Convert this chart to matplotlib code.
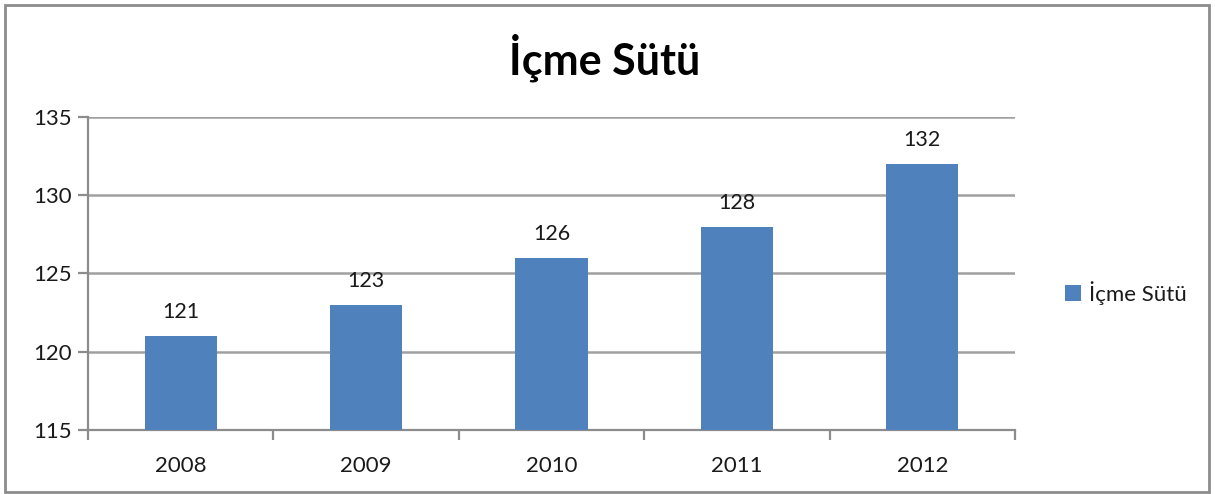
import matplotlib
matplotlib.use("Agg")
import matplotlib.pyplot as plt
from matplotlib.patches import Rectangle

years = ["2008", "2009", "2010", "2011", "2012"]
values = [121, 123, 126, 128, 132]
series_name = "İçme Sütü"
title = "İçme Sütü"
yticks = [115, 120, 125, 130, 135]

plt.rcParams['font.family'] = ['Lato', 'DejaVu Sans']

W, H = 1215, 494
fig = plt.figure(figsize=(W / 100, H / 100), dpi=100)
fig.patch.set_facecolor('white')

# outer chart border
fig.patches.append(Rectangle((5 / W, 2 / H), (1209 - 5) / W, (489 - 2) / H,
                             transform=fig.transFigure, fill=False,
                             edgecolor='#8c8c8c', linewidth=2))

ax = fig.add_axes([88 / W, 1 - 430 / H, (1015 - 88) / W, (430 - 117) / H])
x = list(range(len(years)))
bars = ax.bar(x, values, width=0.39, color='#4F81BD', label=series_name, zorder=3)
ax.set_ylim(115, 135)
ax.set_xlim(-0.5, len(years) - 0.5)
ax.set_yticks(yticks)
ax.set_yticklabels([str(v) for v in yticks])
ax.set_xticks(x)
ax.set_xticklabels(years)
ax.grid(axis='y', color='#a0a0a0', linewidth=1.8, zorder=0)
for s in ['top', 'right']:
    ax.spines[s].set_visible(False)
ax.spines['left'].set_color('#8c8c8c')
ax.spines['bottom'].set_color('#8c8c8c')
ax.spines['left'].set_linewidth(1.6)
ax.spines['bottom'].set_linewidth(1.6)
ax.tick_params(axis='y', length=7, width=1.6, color='#8c8c8c', labelsize=16, pad=5,
               labelcolor='#1a1a1a')
ax.tick_params(axis='x', length=0, labelsize=16, pad=19, labelcolor='#1a1a1a')
# x category boundary ticks
ax.set_xticks([i - 0.5 for i in range(len(years) + 1)], minor=True)
ax.tick_params(axis='x', which='minor', length=7, width=1.6, color='#8c8c8c', direction='out')

for xi, v in zip(x, values):
    ax.annotate(str(v), (xi, v), xytext=(0, 10), textcoords='offset points',
                ha='center', va='bottom', fontsize=15.5, color='#1a1a1a')

fig.text(605 / W, 1 - 58 / H, title, ha='center', va='center', fontsize=31,
         fontweight='bold', color='black')

leg = fig.legend(handles=[bars], labels=[series_name], loc='center left',
                 bbox_to_anchor=(1045 / W, 1 - 293 / H), frameon=False,
                 fontsize=16, handlelength=0.7, handleheight=0.7, handletextpad=0.4,
                 labelcolor='#1a1a1a')

fig.savefig('out.png', dpi=100)
